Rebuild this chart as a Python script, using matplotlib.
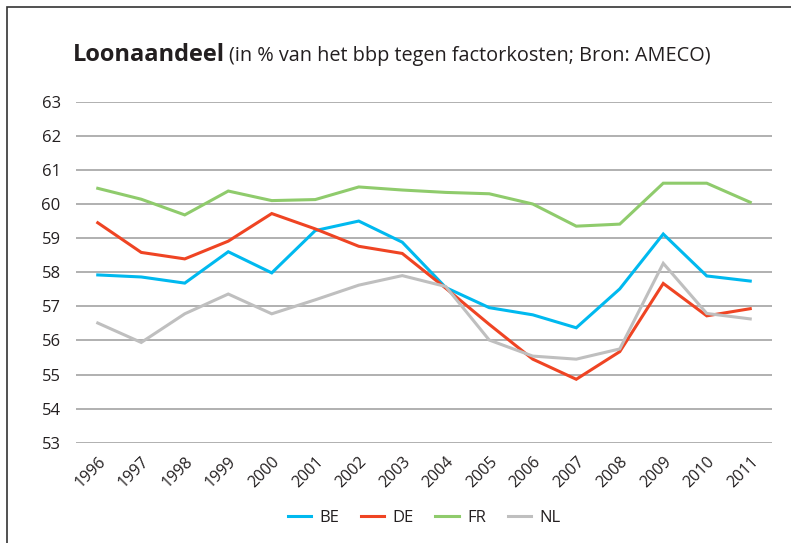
import matplotlib
matplotlib.use("Agg")
import matplotlib.pyplot as plt
from matplotlib.patches import Rectangle

plt.rcParams['font.family'] = ['Open Sans', 'DejaVu Sans']

years = [str(y) for y in range(1996, 2012)]
be = [57.92, 57.86, 57.68, 58.60, 57.98, 59.22, 59.50, 58.88,
      57.55, 56.96, 56.75, 56.37, 57.51, 59.12, 57.89, 57.74]
de = [59.45, 58.58, 58.39, 58.91, 59.72, 59.27, 58.76, 58.55,
      57.53, 56.47, 55.45, 54.86, 55.67, 57.67, 56.72, 56.93]
fr = [60.46, 60.14, 59.68, 60.38, 60.10, 60.13, 60.50, 60.41,
      60.34, 60.30, 60.00, 59.35, 59.41, 60.61, 60.61, 60.05]
nl = [56.51, 55.94, 56.78, 57.36, 56.78, 57.19, 57.62, 57.90,
      57.58, 56.01, 55.54, 55.45, 55.75, 58.26, 56.79, 56.63]

series = [("BE", be, "#00B9EF"), ("DE", de, "#EF4423"),
          ("FR", fr, "#8FCB6C"), ("NL", nl, "#BFBFBF")]
txt = "#231F20"

fig = plt.figure(figsize=(7.91, 5.43), dpi=100)
ax = fig.add_axes([76/791, 1 - 442.7/543, 696/791, 341/543])

x = range(len(years))
for name, vals, col in series:
    ax.plot(x, vals, color=col, lw=2.2, label=name, solid_joinstyle='miter')

ax.set_ylim(53, 63)
ax.set_yticks(range(53, 64))
ax.set_xlim(-0.5, len(years) - 0.5)
ax.set_xticks(list(x))
ax.set_xticklabels(years, rotation=45, ha='right', va='top',
                   rotation_mode='anchor', fontsize=11.5, color=txt)
ax.tick_params(axis='y', labelsize=12, colors=txt, length=0, pad=11)
ax.tick_params(axis='x', length=0, pad=8)
ax.grid(axis='y', color='#A3A3A3', lw=1.2)
ax.set_axisbelow(True)
for s in ax.spines.values():
    s.set_visible(False)

fig.text(73/791, 1 - 61/543, "Loonaandeel", fontsize=17, fontweight='bold',
         color=txt, ha='left', va='baseline')
fig.text(229/791, 1 - 61/543, "(in % van het bbp tegen factorkosten; Bron: AMECO)",
         fontsize=14.3, color=txt, ha='left', va='baseline')

fig.legend(loc='center', bbox_to_anchor=(424/791, 1 - 518/543), ncol=4,
           frameon=False, fontsize=12, handlelength=1.4, columnspacing=1.3,
           handletextpad=0.5, labelcolor=txt)

fig.patches.append(Rectangle((7/791, -0.1), 1.2, 1 - 7/543 + 0.1,
                             transform=fig.transFigure, fill=False,
                             edgecolor='#333333', lw=1.2))

fig.savefig("out.png", dpi=100)
